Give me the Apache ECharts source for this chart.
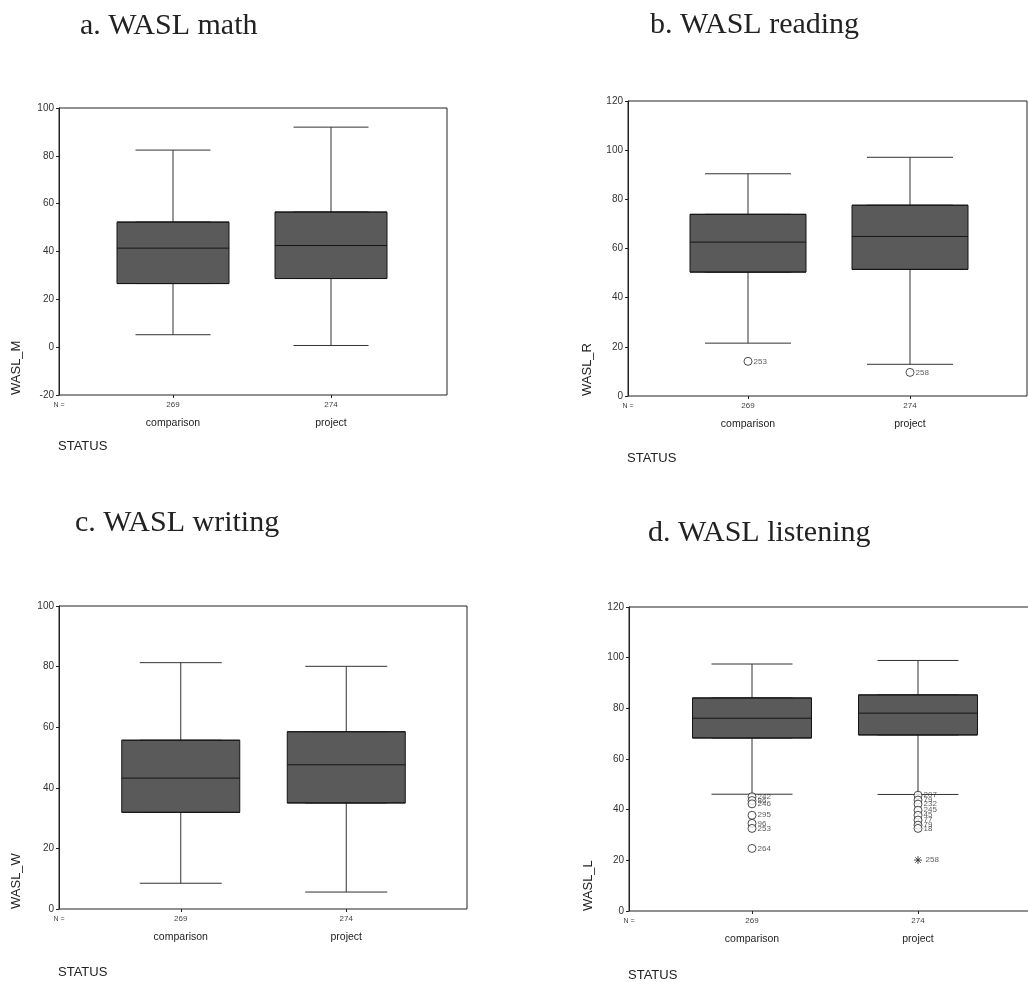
<!DOCTYPE html>
<html>
<head>
<meta charset="utf-8">
<script src="https://cdn.jsdelivr.net/npm/echarts@6/dist/echarts.min.js"></script>
<style>
  html, body { margin: 0; padding: 0; background: #fff; }
  #chart { width: 1028px; height: 982px; }
</style>
</head>
<body>
<div id="chart"></div>
<script>
// groups and N per group
const groups = ['comparison', 'project']
const counts = [269, 274]

// [min, Q1, median, Q3, max] per group
const mathBox = [[5.2, 26.6, 41.4, 52.3, 82.4], [0.7, 28.7, 42.5, 56.5, 92.0]]
const readingBox = [[21.5, 50.4, 62.6, 73.9, 90.4], [12.9, 51.5, 64.9, 77.6, 97.1]]
const writingBox = [[8.5, 31.9, 43.2, 55.7, 81.3], [5.6, 35.0, 47.6, 58.5, 80.1]]
const listeningBox = [[46.1, 68.3, 76.1, 84.1, 97.5], [46.0, 69.5, 78.1, 85.3, 98.9]]

// outliers: [group, value, case id]
const readingOutliers = [['comparison', 14.1, '253'], ['project', 9.6, '258']]
const listeningOutliers = [
  ['comparison', 45.1, '242'], ['comparison', 43.6, '86'], ['comparison', 42.3, '246'],
  ['comparison', 37.8, '295'], ['comparison', 34.6, '96'], ['comparison', 32.6, '253'],
  ['comparison', 24.7, '264'],
  ['project', 45.7, '207'], ['project', 43.8, '79'], ['project', 42.2, '232'],
  ['project', 39.8, '245'], ['project', 37.8, '45'], ['project', 35.9, '77'],
  ['project', 33.9, '79'], ['project', 32.6, '18']
]
const listeningExtremes = [['project', 20.1, '258']]

const sans = 'Liberation Sans, Arial, sans-serif'
const serif = 'Liberation Serif, Times New Roman, serif'

const panels = [
  { title: 'a. WASL math', tx: 80, ty: 11, yName: 'WASL_M', stats: mathBox, outliers: [], extremes: [],
    frame: [59, 108, 447, 395], inner: [94, 410], yMin: -20, yMax: 100, boxW: 112, capW: 75, statusGap: 51, yNameX: 16, sym: 8 },
  { title: 'b. WASL reading', tx: 650, ty: 10, yName: 'WASL_R', stats: readingBox, outliers: readingOutliers, extremes: [],
    frame: [628, 101, 1027, 396], inner: [667, 991], yMin: 0, yMax: 120, boxW: 116, capW: 86, statusGap: 62, yNameX: 587, sym: 8 },
  { title: 'c. WASL writing', tx: 75, ty: 508, yName: 'WASL_W', stats: writingBox, outliers: [], extremes: [],
    frame: [59, 606, 467, 909], inner: [98, 429], yMin: 0, yMax: 100, boxW: 118, capW: 82, statusGap: 63, yNameX: 16, sym: 8 },
  { title: 'd. WASL listening', tx: 648, ty: 518, yName: 'WASL_L', stats: listeningBox, outliers: listeningOutliers, extremes: listeningExtremes,
    frame: [629, 607, 1041, 911], inner: [669, 1001], yMin: 0, yMax: 120, boxW: 119, capW: 81, statusGap: 64, yNameX: 588, sym: 8 }
]

const option = {
  animation: false,
  backgroundColor: '#fff',
  title: [], grid: [], xAxis: [], yAxis: [], series: [], graphic: []
}

panels.forEach((p, i) => {
  const [l, t, r, b] = p.frame
  const fg = 2 * i, ig = 2 * i + 1
  option.title.push({
    text: p.title, left: p.tx, top: p.ty, padding: 0,
    textStyle: { fontFamily: serif, fontSize: 30, fontWeight: 'normal', color: '#222' }
  })
  // frame grid with the value axis
  option.grid.push({
    left: l, top: t, width: r - l, height: b - t, show: true,
    borderColor: '#222', borderWidth: 1, backgroundColor: 'transparent', outerBoundsMode: 'none'
  })
  // inner grid holding the category positions
  option.grid.push({
    left: p.inner[0], top: t, width: p.inner[1] - p.inner[0], height: b - t, outerBoundsMode: 'none'
  })
  option.xAxis.push(
    { type: 'category', gridIndex: fg, data: groups, show: false },
    {
      type: 'category', gridIndex: ig, data: groups,
      axisLine: { show: false, onZero: false },
      axisTick: { show: true, alignWithLabel: true, length: 3, lineStyle: { color: '#222' } },
      axisLabel: {
        margin: 3,
        formatter: (v, k) => '{n|' + counts[k] + '}\n{c|' + v + '}',
        rich: {
          n: { fontFamily: sans, fontSize: 8, lineHeight: 14, color: '#444' },
          c: { fontFamily: sans, fontSize: 10.5, lineHeight: 22, color: '#222' }
        }
      }
    },
    { type: 'category', gridIndex: ig, data: groups, show: false, axisLine: { onZero: false } }
  )
  option.yAxis.push(
    {
      type: 'value', gridIndex: fg, min: p.yMin, max: p.yMax, interval: 20,
      axisLine: { show: true, lineStyle: { color: '#222' } },
      axisTick: { show: true, length: 3, lineStyle: { color: '#222' } },
      axisLabel: { fontFamily: sans, fontSize: 10, color: '#333', margin: 5 },
      splitLine: { show: false }
    },
    { type: 'value', gridIndex: ig, min: p.yMin, max: p.yMax, show: false, splitLine: { show: false } }
  )
  // whiskers with narrow caps
  option.series.push({
    type: 'boxplot', xAxisIndex: 3 * i + 2, yAxisIndex: ig,
    boxWidth: [p.capW, p.capW], silent: true,
    itemStyle: { color: 'transparent', borderColor: '#333', borderWidth: 1 },
    data: p.stats
  })
  // the box itself, Q1..Q3 with median
  option.series.push({
    type: 'boxplot', xAxisIndex: 3 * i + 1, yAxisIndex: ig, z: 3,
    boxWidth: [p.boxW, p.boxW], silent: true,
    itemStyle: { color: '#5a5a5a', borderColor: '#151515', borderWidth: 1 },
    data: p.stats.map(s => [s[1], s[1], s[2], s[3], s[3]])
  })
  const pointLabel = {
    show: true, position: 'right', distance: 1,
    formatter: q => q.data[2], fontFamily: sans, fontSize: 8, color: '#333'
  }
  if (p.outliers.length) {
    option.series.push({
      type: 'scatter', xAxisIndex: 3 * i + 1, yAxisIndex: ig, z: 4, silent: true,
      symbol: 'circle', symbolSize: p.sym,
      itemStyle: { color: '#fff', borderColor: '#222', borderWidth: 1 },
      label: pointLabel,
      data: p.outliers
    })
  }
  if (p.extremes.length) {
    option.series.push({
      type: 'scatter', xAxisIndex: 3 * i + 1, yAxisIndex: ig, z: 4, silent: true,
      symbol: 'path://M5,0L5,10M0,5L10,5M1.5,1.5L8.5,8.5M8.5,1.5L1.5,8.5', symbolSize: 8,
      itemStyle: { color: 'none', borderColor: '#222', borderWidth: 1 },
      label: pointLabel,
      data: p.extremes
    })
  }
  // texts around the frame
  option.graphic.push(
    {
      type: 'text', x: p.yNameX, y: b, rotation: Math.PI / 2,
      style: { text: p.yName, fontFamily: sans, fontSize: 13, fill: '#222', align: 'left', verticalAlign: 'middle' }
    },
    {
      type: 'text', x: l, y: b + 10,
      style: { text: 'N =', fontFamily: sans, fontSize: 7, fill: '#444', align: 'center', verticalAlign: 'middle' }
    },
    {
      type: 'text', x: l - 1, y: b + p.statusGap,
      style: { text: 'STATUS', fontFamily: sans, fontSize: 13, fill: '#222', align: 'left', verticalAlign: 'middle' }
    }
  )
})

const chart = echarts.init(document.getElementById('chart'))
chart.setOption(option)
</script>
</body>
</html>
